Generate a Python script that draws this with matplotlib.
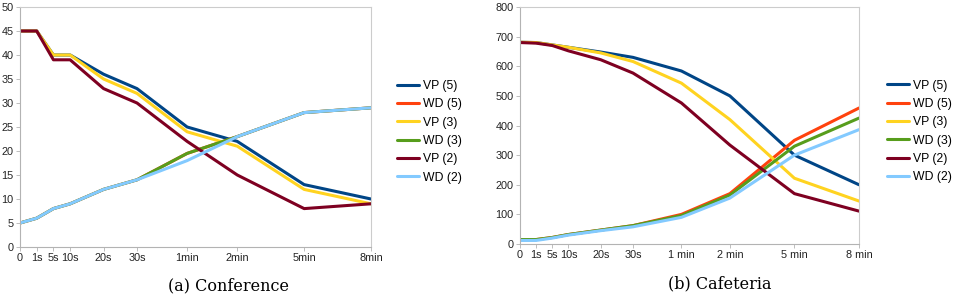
import matplotlib
matplotlib.use("Agg")
import matplotlib.pyplot as plt

# x categories (non-uniform spacing, as in the source chart)
x_pos = [0, 1, 2, 3, 5, 7, 10, 13, 17, 21]
labels_conf = ["0", "1s", "5s", "10s", "20s", "30s", "1min", "2min", "5min", "8min"]
labels_caf = ["0", "1s", "5s", "10s", "20s", "30s", "1 min", "2 min", "5 min", "8 min"]

series_names = ["VP (5)", "WD (5)", "VP (3)", "WD (3)", "VP (2)", "WD (2)"]
colors = ["#004586", "#ff420e", "#ffd320", "#579d1c", "#7e0021", "#83caff"]

# (a) Conference
conf_vp5 = [45, 45, 40, 40, 36, 33, 25, 22, 13, 10]
conf_wd5 = [5, 6, 8, 9, 12, 14, 19.5, 23, 28, 29]
conf_vp3 = [45, 45, 40, 40, 35, 32, 24, 21, 12, 9]
conf_wd3 = [5, 6, 8, 9, 12, 14, 19.5, 23, 28, 29]
conf_vp2 = [45, 45, 39, 39, 33, 30, 22, 15, 8, 9]
conf_wd2 = [5, 6, 8, 9, 12, 14, 18, 23, 28, 29]

# (b) Cafeteria
caf_vp5 = [681, 680, 672, 664, 648, 630, 584, 500, 300, 200]
caf_wd5 = [15, 15, 22, 32, 47, 62, 100, 170, 350, 459]
caf_vp3 = [681, 680, 672, 664, 645, 616, 543, 420, 222, 145]
caf_wd3 = [15, 15, 22, 32, 47, 62, 96, 165, 330, 425]
caf_vp2 = [680, 678, 670, 652, 622, 577, 476, 334, 170, 111]
caf_wd2 = [12, 12, 20, 30, 45, 58, 90, 155, 300, 386]

plt.rcParams["font.family"] = ["Liberation Sans", "DejaVu Sans"]

fig = plt.figure(figsize=(9.59, 2.98), dpi=100)
W, H = 959, 298


def make_axes(l, r, t, b):
    return fig.add_axes([l / W, 1 - b / H, (r - l) / W, (b - t) / H])


def draw(ax, data, labels, ymax, ystep, legend_xy):
    for vals, name, c in zip(data, series_names, colors):
        ax.plot(x_pos, vals, color=c, linewidth=2.2, label=name,
                solid_joinstyle="round", solid_capstyle="round")
    ax.set_xlim(0, 21)
    ax.set_ylim(0, ymax)
    ax.set_xticks(x_pos)
    ax.set_xticklabels(labels)
    ax.set_yticks(range(0, ymax + 1, ystep))
    ax.tick_params(labelsize=7.8, length=3, width=0.6, color="#b3b3b3",
                   labelcolor="#222222", pad=1.5)
    for side in ["top", "right", "left", "bottom"]:
        ax.spines[side].set_color("#cccccc")
        ax.spines[side].set_linewidth(0.8)
    ax.spines["left"].set_color("#b3b3b3")
    ax.spines["bottom"].set_color("#b3b3b3")
    ax.legend(loc="center left", bbox_to_anchor=legend_xy,
              frameon=False, fontsize=8.8, handlelength=1.8,
              handletextpad=0.3, labelspacing=0.52, borderaxespad=0)


ax1 = make_axes(20, 371, 7, 247)
draw(ax1, [conf_vp5, conf_wd5, conf_vp3, conf_wd3, conf_vp2, conf_wd2],
     labels_conf, 50, 5, (1.06, 0.48))

ax2 = make_axes(520, 859, 7, 244)
draw(ax2, [caf_vp5, caf_wd5, caf_vp3, caf_wd3, caf_vp2, caf_wd2],
     labels_caf, 800, 100, (1.068, 0.475))

fig.text(228 / W, 1 - 286 / H, "(a) Conference", ha="center", va="center",
         fontsize=11.5, family=["DejaVu Serif"])
fig.text(720 / W, 1 - 284 / H, "(b) Cafeteria", ha="center", va="center",
         fontsize=11.5, family=["DejaVu Serif"])

fig.savefig("out.png", dpi=100)
